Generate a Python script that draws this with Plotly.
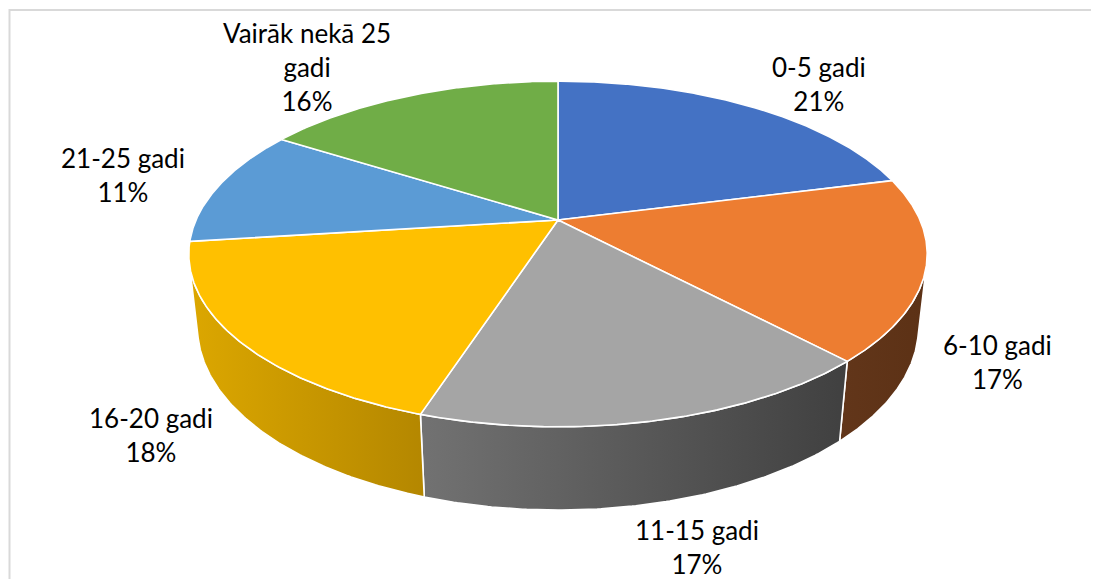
import textwrap
import numpy as np
import plotly.graph_objects as go

# ---------------- data ----------------
categories = ["0-5 gadi", "6-10 gadi", "11-15 gadi", "16-20 gadi",
              "21-25 gadi", "Vairāk nekā 25 gadi"]
values = [21, 17, 17, 18, 11, 16]

# ---------------- styles ----------------
top_colors = ["#4472C4", "#ED7D31", "#A5A5A5", "#FFC000", "#5B9BD5", "#70AD47"]
# side shading (screen-left colour, screen-right colour)
side_colors = [("#2F528F", "#22406F"), ("#62361A", "#5C3115"),
               ("#727272", "#404040"), ("#DCA700", "#B48700"),
               ("#3F73A6", "#2E5A85"), ("#4E7A31", "#3C5E26")]
label_pos = [(819, 84), (997, 362), (697, 547), (151, 435), (123, 175), (307, 67)]

WIN_W, WIN_H = 1099, 579
OFF = 8                    # page body margin
W, H = WIN_W - OFF, WIN_H - OFF
CX, CY = 558, 220          # pie apex on screen
S = 362                    # horizontal scale
ALPHA = np.arcsin(0.459)   # viewing elevation
K = 0.2212                 # perspective strength (radius / camera distance)
DEPTH = 0.229              # pie thickness relative to radius
A, C = np.sin(ALPHA), np.cos(ALPHA)


def project(theta, z):
    """theta: clockwise from the far (12 o'clock) point; z: 0 top, -DEPTH bottom."""
    x, y = np.sin(theta), np.cos(theta)
    den = 1 + K * C * y - K * A * z
    return CX + S * x / den, CY - S * (A * y + C * z) / den


fig = go.Figure()

total = sum(values)
fracs = np.array(values) / total
bounds = np.concatenate([[0], np.cumsum(fracs)]) * 2 * np.pi

# visible side range: cos(theta) < -K/C
t_vis = np.arccos(-K / C)
vis_lo, vis_hi = t_vis, 2 * np.pi - t_vis

# side faces
for i in range(len(values)):
    t0, t1 = max(bounds[i], vis_lo), min(bounds[i + 1], vis_hi)
    if t1 <= t0:
        continue
    th = np.linspace(t0, t1, 120)
    xt, yt = project(th, 0.0)
    xb, yb = project(th[::-1], -DEPTH)
    xs = np.concatenate([xt, xb, xt[:1]])
    ys = np.concatenate([yt, yb, yt[:1]])
    left, right = side_colors[i]
    fig.add_trace(go.Scatter(
        x=xs, y=ys, mode="lines", fill="toself",
        fillgradient=dict(type="horizontal",
                          colorscale=[[0, left], [1, right]]),
        line=dict(color="white", width=1.6),
        hoverinfo="skip", showlegend=False))

# top faces
for i in range(len(values)):
    th = np.linspace(bounds[i], bounds[i + 1], 200)
    xa, ya = project(th, 0.0)
    xs = np.concatenate([[CX], xa, [CX]])
    ys = np.concatenate([[CY], ya, [CY]])
    fig.add_trace(go.Scatter(
        x=xs, y=ys, mode="lines", fill="toself", fillcolor=top_colors[i],
        line=dict(color="white", width=1.6),
        hoverinfo="skip", showlegend=False))

# labels
for cat, v, (lx, ly) in zip(categories, values, label_pos):
    pct = round(v / total * 100)
    text = "<br>".join(textwrap.wrap(cat, 15)) + f"<br>{pct}%"
    fig.add_annotation(x=lx, y=ly, text=text, showarrow=False,
                       xanchor="center", yanchor="middle", align="center",
                       font=dict(family="Lato", size=26, color="black"))

fig.update_layout(
    width=W, height=H,
    margin=dict(l=0, r=0, t=0, b=0),
    paper_bgcolor="white", plot_bgcolor="white",
    xaxis=dict(range=[OFF, WIN_W], visible=False, fixedrange=True),
    yaxis=dict(range=[WIN_H, OFF], visible=False, fixedrange=True),
    shapes=[dict(type="path", path=f"M 9.5 {WIN_H} L 9.5 10 L {WIN_W} 10",
                 line=dict(color="#D9D9D9", width=2), layer="below")],
)

fig.write_html("out.html")
